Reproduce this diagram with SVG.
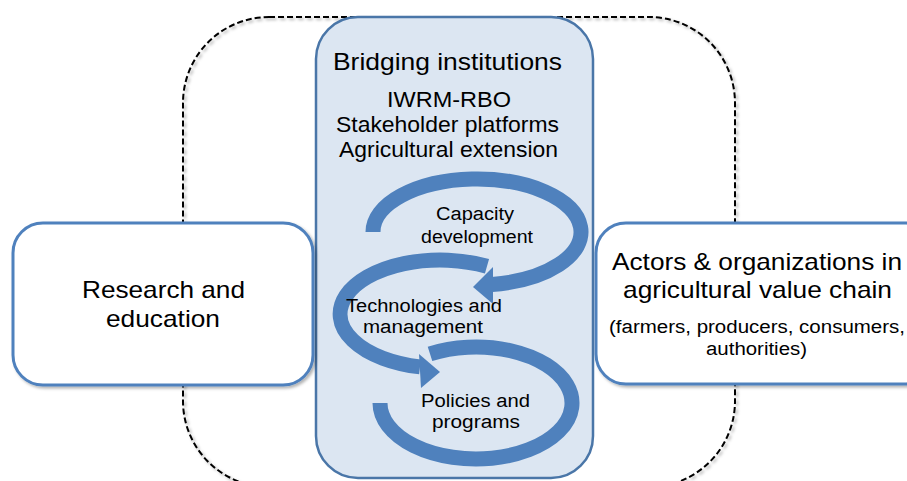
<svg xmlns="http://www.w3.org/2000/svg" width="907" height="481" viewBox="0 0 907 481">
<defs>
<style>
text{font-family:"Liberation Sans",Arial,sans-serif;fill:#000;text-anchor:middle}
.big{font-size:24px}
.sub{font-size:22px}
.sm{font-size:18px}
.box{fill:#fff;stroke:#4f81bd;stroke-width:3}
.band{fill:none;stroke:#4f81bd;stroke-width:15}
.head{fill:#4f81bd}
</style>
<filter id="sh" x="-10%" y="-10%" width="130%" height="130%">
<feDropShadow dx="2" dy="2" stdDeviation="1.5" flood-color="#000" flood-opacity="0.3"/>
</filter>
</defs>
<rect width="907" height="481" fill="#fff"/>
<g id="frame">
<rect x="183" y="17" width="552" height="470" rx="86" ry="86" fill="none" stroke="#000" stroke-width="2" stroke-dasharray="6 3" filter="url(#sh)"/>
</g>
<g id="bridging">
<rect x="316" y="17" width="277" height="461" rx="42" ry="42" fill="#dce6f2" stroke="#4a76a8" stroke-width="2.5"/>
<text class="big" x="447.5" y="70" textLength="229" lengthAdjust="spacingAndGlyphs">Bridging institutions</text>
<text class="sub" x="449" y="107" textLength="124" lengthAdjust="spacingAndGlyphs">IWRM-RBO</text>
<text class="sub" x="447.5" y="132" textLength="223" lengthAdjust="spacingAndGlyphs">Stakeholder  platforms</text>
<text class="sub" x="448.5" y="157" textLength="219" lengthAdjust="spacingAndGlyphs">Agricultural  extension</text>
</g>
<g id="connectors">
<path class="band" d="M373,232 A104,53 0 1 1 492,284.4"/>
<polygon class="head" points="493,267 473,287 493,304"/>
<path class="band" d="M487,266.3 A100,54 0 1 0 420,366.9"/>
<polygon class="head" points="419,354 440,372 421,388"/>
<path class="band" d="M430,353.8 A96,56 0 1 1 380,403"/>
</g>
<g id="capacity">
<text class="sm" x="475" y="220" textLength="78" lengthAdjust="spacingAndGlyphs">Capacity</text>
<text class="sm" x="477" y="243" textLength="112" lengthAdjust="spacingAndGlyphs">development</text>
</g>
<g id="technologies">
<text class="sm" x="424" y="312" textLength="156" lengthAdjust="spacingAndGlyphs">Technologies and</text>
<text class="sm" x="423" y="333" textLength="120" lengthAdjust="spacingAndGlyphs">management</text>
</g>
<g id="policies">
<text class="sm" x="475.5" y="407" textLength="109" lengthAdjust="spacingAndGlyphs">Policies and</text>
<text class="sm" x="476" y="428" textLength="88" lengthAdjust="spacingAndGlyphs">programs</text>
</g>
<g id="research">
<rect class="box" x="13" y="223" width="300" height="162" rx="30" ry="30" filter="url(#sh)"/>
<text class="big" x="163.5" y="298" textLength="163" lengthAdjust="spacingAndGlyphs">Research and</text>
<text class="big" x="163" y="327" textLength="114" lengthAdjust="spacingAndGlyphs">education</text>
</g>
<g id="actors">
<rect class="box" x="596" y="223" width="340" height="161" rx="30" ry="30" filter="url(#sh)"/>
<text class="big" x="757" y="270" textLength="290" lengthAdjust="spacingAndGlyphs">Actors &amp; organizations in</text>
<text class="big" x="757.5" y="298" textLength="269" lengthAdjust="spacingAndGlyphs">agricultural value chain</text>
<text class="sm" x="757" y="333" textLength="296" lengthAdjust="spacingAndGlyphs">(farmers, producers, consumers,</text>
<text class="sm" x="756.5" y="355" textLength="101" lengthAdjust="spacingAndGlyphs">authorities)</text>
</g>
</svg>
